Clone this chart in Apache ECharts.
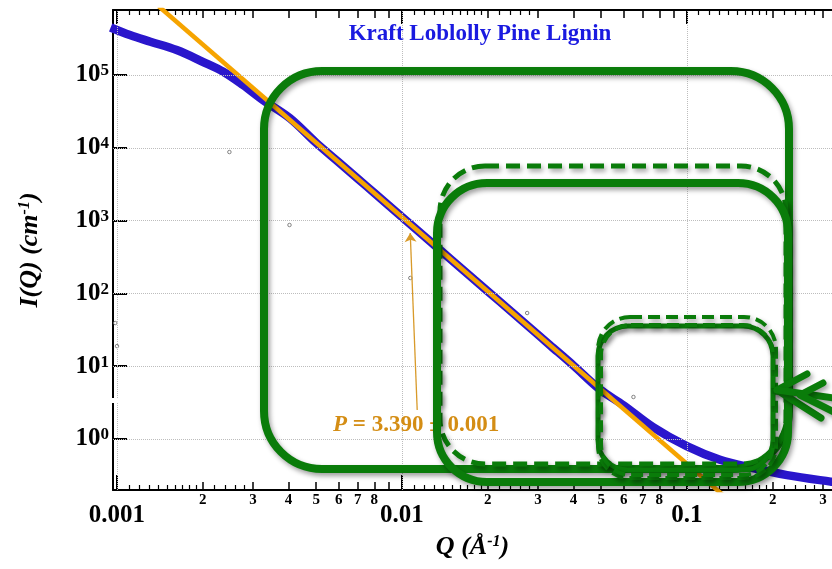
<!DOCTYPE html>
<html>
<head>
<meta charset="utf-8">
<script src="https://cdn.jsdelivr.net/npm/echarts@6/dist/echarts.min.js"></script>
<style>
  html, body { margin: 0; padding: 0; background: #fff; }
  #chart { width: 832px; height: 569px; }
</style>
</head>
<body>
<div id="chart"></div>
<script>
// SANS curve of kraft loblolly pine lignin, log-log, with power-law fit.
const qValues = [0.00095, 0.00111, 0.00131, 0.00162, 0.00200, 0.00236, 0.00277, 0.00325, 0.00404,
  0.005, 0.006, 0.007, 0.008, 0.010, 0.012, 0.015, 0.018, 0.022, 0.027, 0.033, 0.040,
  0.0495, 0.060, 0.076, 0.0998, 0.1306, 0.1706, 0.2245, 0.319, 0.335];
const intensity = [4.5e5, 3.54e5, 2.87e5, 2.20e5, 1.52e5, 1.11e5, 7.29e4, 4.54e4, 2.56e4,
  1.17e4, 6340, 3760, 2390, 1120, 606, 284, 153, 77.7, 38.8, 19.6, 10.2,
  4.8, 2.9, 1.46, 0.80, 0.52, 0.40, 0.32, 0.26, 0.255];

// Fitted power law segment (P = 3.390)
const fitQ = [0.0014, 0.136];
const fitI = [8.8e5, 0.161];

// Isolated stray points
const strayQ = [0.000986, 0.0010, 0.00248, 0.00403, 0.0107, 0.0275, 0.0649];
const strayI = [39.2, 18.9, 8750, 871, 163, 53.8, 3.78];

// Annotation arrow: from the label up to the fit line
const arrowQ = [0.01131, 0.01069];
const arrowI = [2.50, 676];

// Tick marks and labels
const decades = [0.001, 0.01, 0.1];
const decadeLabels = ['0.001', '0.01', '0.1'];
const midMantissas = [2, 3, 4, 5, 6, 7, 8, 9];
const labeledMantissas = [2, 3, 4, 5, 6, 7, 8];
const fineMantissas = [1.1, 1.2, 1.3, 1.4, 1.5, 1.6, 1.7, 1.8, 1.9, 2.2, 2.4, 2.6, 2.8];
const yTicks = [1, 10, 100, 1000, 10000, 100000];
const yExponents = ['0', '1', '2', '3', '4', '5'];

const L = Math.log10;
const FONT = 'Liberation Serif';
const X_MIN = -3.014, X_MAX = -0.491, Y_MIN = -0.70, Y_MAX = 5.893;

function scaled(mants) {
  const out = [];
  decades.forEach(d => mants.forEach(m => {
    const v = L(d * m);
    if (v > X_MIN && v < X_MAX) out.push(v);
  }));
  return out;
}
function lookup(v, values, labels) {
  for (let i = 0; i < values.length; i++) if (Math.abs(values[i] - v) < 1e-6) return labels[i];
  return '';
}

const majorX = decades.map(L);
const midX = scaled(midMantissas);
const labeledX = scaled(labeledMantissas);
const labeledText = [];
decades.forEach(d => labeledMantissas.forEach(m => {
  const v = L(d * m);
  if (v > X_MIN && v < X_MAX) labeledText.push(String(m));
}));
const fineX = scaled(fineMantissas);
const majorY = yTicks.map(L);

function xAxisDef(position, ticks, len, width, showLine, label) {
  return {
    type: 'value', position: position, min: X_MIN, max: X_MAX,
    axisLine: { show: showLine, onZero: false, lineStyle: { color: '#000', width: 2 } },
    axisTick: { show: true, inside: true, length: len, customValues: ticks,
      lineStyle: { color: '#000', width: width } },
    axisLabel: label || { show: false },
    splitLine: { show: false }
  };
}

const GREEN = '#0a7c0a';
const SHADOW = { shadowBlur: 5, shadowColor: 'rgba(0,0,0,0.38)', shadowOffsetX: 2, shadowOffsetY: 3 };
function box(x, y, w, h, r, lw, dash) {
  return {
    type: 'rect', z: 100, silent: true,
    shape: { x: x, y: y, width: w, height: h, r: r },
    style: Object.assign({ fill: 'none', stroke: GREEN, lineWidth: lw, lineDash: dash || null }, SHADOW)
  };
}
function stroke(points) {
  return {
    type: 'polyline', z: 100, silent: true,
    shape: { points: points },
    style: Object.assign({ fill: 'none', stroke: GREEN, lineWidth: 7, lineCap: 'round', lineJoin: 'round' }, SHADOW)
  };
}

const titleRich = {
  n: { fontFamily: FONT, fontWeight: 'bold', fontStyle: 'italic', fontSize: 26, color: '#000' },
  s: { fontFamily: FONT, fontWeight: 'bold', fontStyle: 'italic', fontSize: 16, color: '#000', verticalAlign: 'top' }
};

const xMain = xAxisDef('bottom', majorX, 15, 2, true, {
  show: true, customValues: majorX, margin: 13,
  formatter: v => lookup(v, majorX, decadeLabels),
  fontFamily: FONT, fontWeight: 'bold', fontSize: 25, color: '#000'
});
xMain.name = '{n|Q (Å}{s|-1}{n|)}';
xMain.nameLocation = 'middle';
xMain.nameGap = 44;
xMain.nameTextStyle = { rich: titleRich };

const chart = echarts.init(document.getElementById('chart'));
chart.setOption({
  backgroundColor: '#fff',
  animation: false,
  grid: { left: 113, top: 10, right: 0, bottom: 79, containLabel: false },
  xAxis: [
    xMain,
    xAxisDef('bottom', midX, 8, 1.5, false, {
      show: true, customValues: labeledX, margin: 3,
      formatter: v => lookup(v, labeledX, labeledText),
      fontFamily: FONT, fontWeight: 'bold', fontSize: 15, color: '#000'
    }),
    xAxisDef('bottom', fineX, 5, 1.2, false),
    xAxisDef('top', majorX, 14, 2, true),
    xAxisDef('top', midX, 8, 1.5, false),
    xAxisDef('top', fineX, 5, 1.2, false)
  ],
  yAxis: [{
    type: 'value', position: 'left', min: Y_MIN, max: Y_MAX,
    axisLine: { show: true, onZero: false, lineStyle: { color: '#000', width: 2 } },
    axisTick: { show: true, inside: true, length: 14, customValues: majorY,
      lineStyle: { color: '#000', width: 2 } },
    axisLabel: {
      show: true, customValues: majorY, margin: 4,
      formatter: v => '{b|10}{s|' + lookup(v, majorY, yExponents) + '}',
      rich: {
        b: { fontFamily: FONT, fontWeight: 'bold', fontSize: 25, color: '#000' },
        s: { fontFamily: FONT, fontWeight: 'bold', fontSize: 17, color: '#000', verticalAlign: 'top' }
      }
    },
    splitLine: { show: false },
    name: '{n|I(Q) (cm}{s|-1}{n|)}',
    nameLocation: 'middle', nameGap: 70, nameRotate: 90,
    nameTextStyle: { rich: titleRich }
  }],
  series: [
    {
      name: 'decades', type: 'line', data: [], silent: true, z: 1,
      markLine: {
        silent: true, symbol: 'none', label: { show: false },
        lineStyle: { color: '#bdbdbd', type: 'dotted', width: 1 },
        data: majorX.map(v => ({ xAxis: v })).concat(majorY.map(v => ({ yAxis: v })))
      }
    },
    {
      name: 'stray', type: 'scatter', z: 2, symbol: 'circle', symbolSize: 3.5, silent: true,
      itemStyle: { color: '#fff', borderColor: '#666', borderWidth: 1 },
      data: strayQ.map((q, i) => [L(q), L(strayI[i])])
    },
    {
      name: 'Kraft Loblolly Pine Lignin', type: 'line', z: 3, symbol: 'none', smooth: 0.35,
      lineStyle: { color: '#2a16cc', width: 8.5 },
      data: qValues.map((q, i) => [L(q), L(intensity[i])])
    },
    {
      name: 'fit', type: 'line', z: 4, symbol: 'none',
      lineStyle: { color: '#f6a400', width: 4.5 },
      data: fitQ.map((q, i) => [L(q), L(fitI[i])]),
      markLine: {
        silent: true, symbol: ['none', 'arrow'], symbolSize: 9, label: { show: false },
        lineStyle: { color: '#d89a2a', width: 1.3, type: 'solid' },
        data: [[{ coord: [L(arrowQ[0]), L(arrowI[0])] }, { coord: [L(arrowQ[1]), L(arrowI[1])] }]]
      }
    }
  ],
  graphic: [
    // break in the left spine
    { type: 'rect', z: 50, silent: true, shape: { x: 108, y: 398, width: 10, height: 5 }, style: { fill: '#fff' } },
    {
      type: 'text', z: 60, silent: true, x: 480, y: 34,
      style: { text: 'Kraft Loblolly Pine Lignin', fill: '#1a1ae0', fontFamily: FONT, fontWeight: 'bold',
        fontSize: 23, align: 'center', verticalAlign: 'middle' }
    },
    {
      type: 'text', z: 60, silent: true, x: 333, y: 425,
      style: {
        text: '{i|P}{n| = 3.390 ± 0.001}', align: 'left', verticalAlign: 'middle',
        rich: {
          i: { fontFamily: FONT, fontWeight: 'bold', fontStyle: 'italic', fontSize: 23, fill: '#d48d14' },
          n: { fontFamily: FONT, fontWeight: 'bold', fontSize: 23, fill: '#d48d14' }
        }
      }
    },
    box(264, 71, 525, 398, 58, 8),
    box(440, 166, 346, 298, 45, 5, [14, 7]),
    box(437, 183, 351, 299, 50, 8),
    box(598, 326, 175, 144, 30, 5),
    box(598, 317, 178, 161, 32, 4, [12, 6]),
    box(601, 325, 172, 150, 30, 4, [12, 6]),
    stroke([[807, 374], [777, 390], [821, 418]]),
    stroke([[777, 390], [834, 398]]),
    stroke([[823, 383], [800, 395], [834, 412]])
  ]
});
</script>
</body>
</html>
